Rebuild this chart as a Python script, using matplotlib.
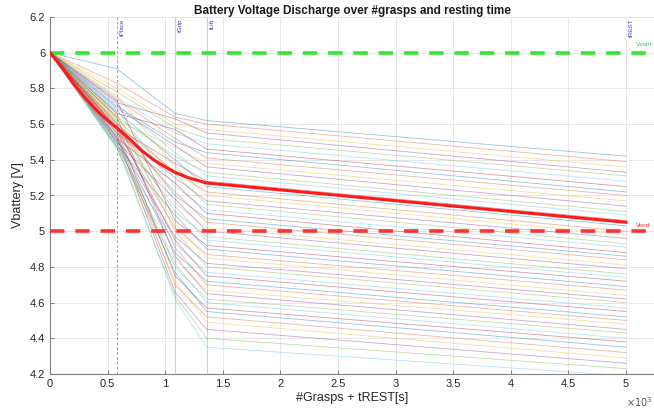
import matplotlib
matplotlib.use("Agg")
import matplotlib.pyplot as plt
import numpy as np

plt.rcParams['font.family'] = ['Liberation Sans', 'DejaVu Sans']

# Phase boundaries (x positions, s / grasps)
x_phase = [0, 580, 1085, 1360, 5000]

# Per-battery voltages at each phase boundary (start at 6 V)
v_start = 6.0
v_580 = [5.91, 5.83, 5.80, 5.72, 5.78, 5.75, 5.66, 5.70, 5.74, 5.62,
         5.69, 5.64, 5.71, 5.58, 5.67, 5.60, 5.76, 5.55, 5.63, 5.68,
         5.52, 5.61, 5.57, 5.65, 5.50, 5.59, 5.54, 5.73, 5.48, 5.56,
         5.62, 5.51, 5.66, 5.47, 5.58, 5.53, 5.60, 5.49, 5.64, 5.52,
         5.46, 5.57, 5.50, 5.55, 5.48, 5.53, 5.47, 5.49]
v_1085 = [5.66, 5.64, 5.60, 5.63, 5.58, 5.55, 5.57, 5.50, 5.52, 5.47,
          5.48, 5.42, 5.44, 5.38, 5.40, 5.33, 5.36, 5.30, 5.32, 5.25,
          5.27, 5.20, 5.22, 5.16, 5.18, 5.11, 5.14, 5.06, 5.09, 5.02,
          5.04, 4.97, 5.00, 4.93, 4.95, 4.88, 4.91, 4.84, 4.86, 4.80,
          4.82, 4.75, 4.77, 4.70, 4.72, 4.66, 4.64, 4.62]
v_1360 = [5.62, 5.60, 5.57, 5.55, 5.52, 5.49, 5.46, 5.44, 5.41, 5.38,
          5.36, 5.33, 5.31, 5.28, 5.25, 5.22, 5.20, 5.17, 5.15, 5.12,
          5.10, 5.07, 5.05, 5.02, 5.00, 4.97, 4.95, 4.92, 4.90, 4.87,
          4.85, 4.82, 4.80, 4.77, 4.75, 4.72, 4.70, 4.67, 4.65, 4.62,
          4.60, 4.57, 4.55, 4.52, 4.49, 4.45, 4.40, 4.35]
v_5000 = [5.42, 5.39, 5.36, 5.33, 5.31, 5.28, 5.25, 5.22, 5.20, 5.17,
          5.14, 5.11, 5.09, 5.06, 5.03, 5.00, 4.98, 4.96, 4.93, 4.91,
          4.88, 4.86, 4.84, 4.81, 4.79, 4.76, 4.74, 4.72, 4.69, 4.67,
          4.64, 4.62, 4.60, 4.57, 4.55, 4.52, 4.50, 4.48, 4.45, 4.43,
          4.40, 4.38, 4.35, 4.32, 4.29, 4.26, 4.23, 4.19]

# Mean / reference discharge curve
x_mean = [0, 100, 200, 300, 400, 500, 580, 700, 800, 900, 1000, 1085, 1200, 1360, 5000]
v_mean = [6.00, 5.92, 5.83, 5.75, 5.68, 5.62, 5.58, 5.51, 5.45, 5.40, 5.36, 5.33, 5.30, 5.27, 5.05]

phase_labels = ["tPlace", "tGrip", "tLift", "tREST"]
v_high = 6.0
v_low = 5.0

x_ticks = [0, 500, 1000, 1500, 2000, 2500, 3000, 3500, 4000, 4500, 5000]
x_ticklabels = ['0', '0.5', '1', '1.5', '2', '2.5', '3', '3.5', '4', '4.5', '5']
y_ticks = [4.2, 4.4, 4.6, 4.8, 5.0, 5.2, 5.4, 5.6, 5.8, 6.0, 6.2]
y_ticklabels = ['4.2', '4.4', '4.6', '4.8', '5', '5.2', '5.4', '5.6', '5.8', '6', '6.2']

colors = ['#0072BD', '#D95319', '#EDB120', '#7E2F8E', '#77AC30', '#4DBEEE', '#A2142F']

fig = plt.figure(figsize=(6.54, 4.12), dpi=100)
ax = fig.add_axes([50/654, 38/412, 604/654, 357/412])

ax.set_xlim(0, 5243)
ax.set_ylim(4.2, 6.2)
ax.set_xticks(x_ticks)
ax.set_xticklabels(x_ticklabels)
ax.set_yticks(y_ticks)
ax.set_yticklabels(y_ticklabels)
ax.grid(True, color='#e3e3e3', linewidth=0.6)
ax.set_axisbelow(True)

for i in range(len(v_580)):
    ys = [v_start, v_580[i], v_1085[i], v_1360[i], v_5000[i]]
    ax.plot(x_phase, ys, color=colors[i % len(colors)], linewidth=0.6, alpha=0.42, zorder=2)

ax.plot(x_mean, v_mean, color='#ff1a1a', linewidth=2.2, zorder=4)

ax.axhline(v_high, color='#33e633', linestyle=(0, (4, 3)), linewidth=2.6, zorder=3)
ax.axhline(v_low, color='#ff3333', linestyle=(0, (4, 3)), linewidth=2.6, zorder=3)

# vertical phase markers
ax.axvline(x_phase[1], color='#9aa0b8', linestyle=(0, (3, 2)), linewidth=0.7, zorder=1)
ax.axvline(x_phase[2], color='#c8d0dc', linewidth=0.8, zorder=1)
ax.axvline(x_phase[3], color='#c8d0dc', linewidth=0.8, zorder=1)
for xp, lab in zip(x_phase[1:], phase_labels):
    ax.text(xp + 25, 6.19, lab, rotation=90, va='top', ha='left',
            fontsize=4.5, color='#4040c0')

ax.text(5085, 6.03, 'Vstart', color='#33cc33', fontsize=4.5, ha='left', va='bottom', clip_on=False)
ax.text(5085, 5.02, 'Vend', color='#ff3333', fontsize=4.5, ha='left', va='bottom', clip_on=False)

for s in ['top', 'right']:
    ax.spines[s].set_visible(False)
for s in ['left', 'bottom']:
    ax.spines[s].set_color('#808080')
    ax.spines[s].set_linewidth(0.8)
ax.tick_params(direction='in', length=3, colors='#808080', labelcolor='#262626', labelsize=8)

ax.set_title('Battery Voltage Discharge over #grasps and resting time',
             fontsize=8.5, fontweight='bold', color='#1a1a1a', pad=1)
ax.set_xlabel('#Grasps + tREST[s]', fontsize=9, color='#262626', labelpad=2)
ax.set_ylabel('Vbattery [V]', fontsize=9, color='#262626', labelpad=4)
fig.text(626/654, 1 - 402/412, r'$\times10^3$', fontsize=7, color='#555555', ha='left', va='center')

fig.savefig('out.png', dpi=100)
